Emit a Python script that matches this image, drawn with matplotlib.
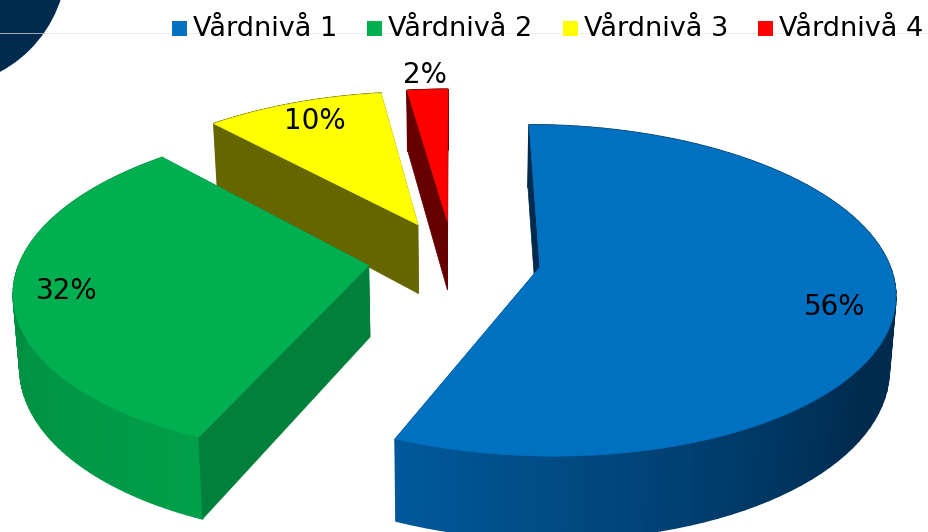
import numpy as np
import matplotlib
matplotlib.use("Agg")
import matplotlib.pyplot as plt
from matplotlib.collections import PolyCollection
from matplotlib.patches import Circle, Polygon, Rectangle

# data
categories = ["Vårdnivå 1", "Vårdnivå 2", "Vårdnivå 3", "Vårdnivå 4"]
shares = [56.4, 31.8, 9.6, 2.2]

# colours
top_colors = ["#0070C0", "#00B050", "#FFFF00", "#FF0000"]
face_colors = ["#002B4F", "#00803A", "#666600", "#660000"]
# side colour, dark part and light part of the outer arc
arc_dark = ["#002B4F", "#00803A", "#666600", "#660000"]
arc_light = ["#00589A", "#009F4A", "#666600", "#660000"]
label_pos = [(835, 307), (67, 291), (315, 121), (425, 75)]
explode = [88, 85, 85, 85]

# fake 3d camera, all in pixels
CX, CY = 453, 259
R = 348
TILT = 0.46
PERSP = 0.14
DEPTH = 71
SHRINK = 0.015


def project(x, y, z=0.0):
    s = 1 / (1 + PERSP * y / R)
    k = 1 - SHRINK * z
    return CX + x * s * k, CY - y * TILT * s + z * DEPTH * s


def mix(c1, c2, t):
    a = np.array(matplotlib.colors.to_rgb(c1))
    b = np.array(matplotlib.colors.to_rgb(c2))
    return tuple(a + (b - a) * t)


fig = plt.figure(figsize=(9.29, 5.32), dpi=100)
ax = fig.add_axes([0, 0, 1, 1])
ax.set_xlim(0, 929)
ax.set_ylim(532, 0)
ax.axis("off")

# background bits from the slide
ax.add_patch(Circle((-60, -40), 127, color="#002B4F", lw=0))
ax.plot([0, 45], [32.5, 32.5], color="#A8AEB0", lw=0.7)
ax.plot([45, 929], [32.5, 32.5], color="#EEEEE6", lw=0.7)

fractions = np.array(shares) / sum(shares)
edges = np.concatenate([[0], np.cumsum(fractions)]) * 2 * np.pi

# back slices first
for i in [2, 3, 1, 0]:
    a0, a1 = edges[i], edges[i + 1]
    mid = (a0 + a1) / 2
    ox, oy = explode[i] * np.sin(mid), explode[i] * np.cos(mid)
    ang = np.linspace(a0, a1, 90)
    wx = ox + R * np.sin(ang)
    wy = oy + R * np.cos(ang)
    zo = 10 - i * 3

    # end face
    ax.add_patch(Polygon([project(ox, oy), project(wx[-1], wy[-1]),
                          project(wx[-1], wy[-1], 1), project(ox, oy, 1)],
                         color=face_colors[i], lw=0.5, zorder=zo))

    # outer wall
    tx, ty = project(wx, wy)
    bx, by = project(wx, wy, 1)
    strips = []
    cols = []
    for j in range(len(ang) - 1):
        strips.append([(tx[j], ty[j]), (tx[j + 1], ty[j + 1]),
                       (bx[j + 1], by[j + 1]), (bx[j], by[j])])
        u = j / 88
        if i == 0:
            # blue wall stays dark until it turns to the left
            cols.append(mix(arc_dark[i], arc_light[i], np.clip((u - 0.62) / 0.38, 0, 1)))
        else:
            cols.append(mix(arc_dark[i], arc_light[i], 1 - u))
    ax.add_collection(PolyCollection(strips, facecolors=cols, edgecolors=cols, lw=1.2,
                                     zorder=zo + 0.1))

    # start face
    ax.add_patch(Polygon([project(ox, oy), project(wx[0], wy[0]),
                          project(wx[0], wy[0], 1), project(ox, oy, 1)],
                         color=face_colors[i], lw=0.5, zorder=zo + 0.2))

    # top
    px, py = project(np.r_[ox, wx], np.r_[oy, wy])
    ax.add_patch(Polygon(np.column_stack([px, py]), color=top_colors[i], lw=0.5,
                         zorder=zo + 0.3))

    ax.text(label_pos[i][0], label_pos[i][1], f"{shares[i]:.0f}%", fontsize=20, color="black",
            ha="center", va="center", zorder=20)

# legend by hand, the square has to sit on the baseline
for i, name in enumerate(categories):
    x0 = 172 + i * 195.3
    ax.add_patch(Rectangle((x0, 21), 15, 15, color=top_colors[i], lw=0, zorder=20))
    ax.text(x0 + 21, 36, name, fontsize=19.5, color="black", ha="left", va="baseline", zorder=20)

fig.savefig("out.png", dpi=100)
